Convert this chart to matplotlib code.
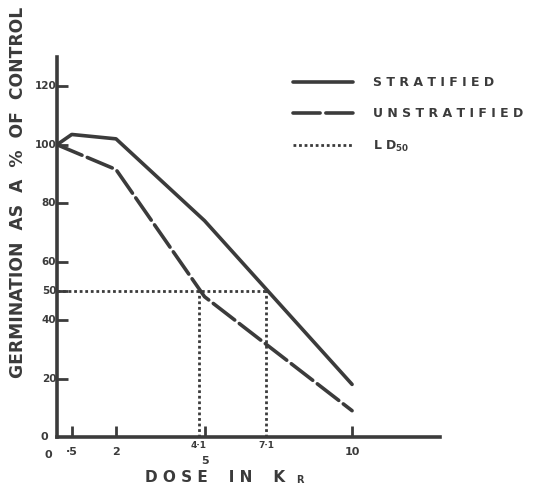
import matplotlib
matplotlib.use("Agg")
import matplotlib.pyplot as plt

# ---- data ----
dose_strat = [0, 0.5, 2, 5, 10]
germ_strat = [100, 103.5, 102, 74, 18]
dose_unstrat = [0, 2, 5, 10]
germ_unstrat = [100, 91.5, 48, 9]
ld50_level = 50
ld50_unstrat_pos = 4.8      # where the dotted line is drawn (labelled 4·1)
ld50_strat_pos = 7.1
ld50_labels = ["4·1", "7·1"]
xtick_vals = [0.5, 2, 5, 10]
xtick_labels = ["·5", "2", "5", "10"]
ytick_vals = [20, 40, 50, 60, 80, 100, 120]
ytick_labels = ["20", "40", "50", "60", "80", "100", "120"]

ink = "#3b3b3b"
fig = plt.figure(figsize=(5.34, 4.88), dpi=100)
fig.patch.set_facecolor("white")
ax = fig.add_axes([57/534, 51/488, 383/534, 380/488])
ax.set_xlim(0, 12.98)
ax.set_ylim(0, 130)

l1, = ax.plot(dose_strat, germ_strat, color=ink, lw=2.6, solid_capstyle="round")
l2, = ax.plot(dose_unstrat, germ_unstrat, color=ink, lw=2.6, dashes=(7.5, 1.6),
              dash_capstyle="round")
dot = (0, (1, 1.0))
l3, = ax.plot([0, ld50_strat_pos], [ld50_level, ld50_level], color=ink, lw=2.0,
              linestyle=dot)
ax.plot([ld50_unstrat_pos, ld50_unstrat_pos], [0, ld50_level], color=ink, lw=2.0,
        linestyle=dot)
ax.plot([ld50_strat_pos, ld50_strat_pos], [0, ld50_level], color=ink, lw=2.0,
        linestyle=dot)

for s in ["top", "right"]:
    ax.spines[s].set_visible(False)
for s in ["left", "bottom"]:
    ax.spines[s].set_linewidth(2.6)
    ax.spines[s].set_color(ink)

fw = "heavy"
ax.set_xticks(xtick_vals)
ax.set_xticklabels([])
ax.set_yticks(ytick_vals)
ax.set_yticklabels([])
ax.tick_params(axis="both", direction="in", length=8, width=2, color=ink)

# tick labels
for v, t in zip(xtick_vals, xtick_labels):
    dy = -17 if t == "5" else -11
    ax.annotate(t, (v, 0), xytext=(0, dy), textcoords="offset points",
                ha="center", va="center", fontsize=8, fontweight=fw, color=ink)
ax.annotate("0", (0, 0), xytext=(-6.5, -13), textcoords="offset points",
            ha="center", va="center", fontsize=8, fontweight=fw, color=ink)
ax.annotate("0", (0, 0), xytext=(-9, 0), textcoords="offset points",
            ha="center", va="center", fontsize=8, fontweight=fw, color=ink)
for v, t in zip([ld50_unstrat_pos, ld50_strat_pos], ld50_labels):
    ax.annotate(t, (v, 0), xytext=(0, -6), textcoords="offset points",
                ha="center", va="center", fontsize=6.5, fontweight=fw, color=ink)
for v, t in zip(ytick_vals, ytick_labels):
    ax.annotate(t, (0, v), xytext=(-0.5, 0), textcoords="offset points",
                ha="right", va="center", fontsize=7.5, fontweight=fw, color=ink)

# axis labels
fig.text(18/534, 1 - 192/488, "GERMINATION  AS  A  %  OF  CONTROL", rotation=90,
         ha="center", va="center", fontsize=12.3, fontweight=fw, color=ink)
fig.text(215/534, 1 - 478/488, "D O S E    I N    K", ha="center", va="center",
         fontsize=11, fontweight=fw, color=ink)
fig.text(300/534, 1 - 480/488, "R", ha="center", va="center",
         fontsize=7, fontweight=fw, color=ink)

leg = ax.legend([l1, l2, l3],
                ["S T R A T I F I E D", "U N S T R A T I F I E D", r"L D$_{\mathbf{50}}$"],
                loc="upper left", bbox_to_anchor=(225/383, 1 - 8/380),
                frameon=False, handlelength=4.8, handletextpad=1.6,
                labelspacing=1.45, prop={"weight": fw, "size": 9})
for t in leg.get_texts():
    t.set_color(ink)

fig.savefig("out.png", dpi=100, facecolor="white")
